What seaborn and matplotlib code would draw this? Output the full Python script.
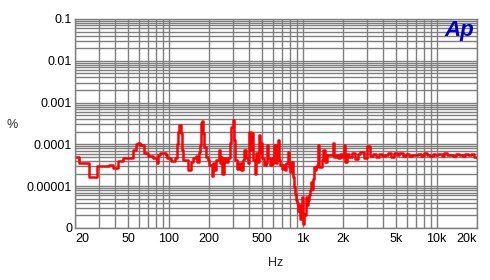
import matplotlib
matplotlib.use("Agg")
import matplotlib.pyplot as plt
import matplotlib.ticker as mticker
import seaborn as sns
import pandas as pd

# ---- data ----
freq_hz = [
    20, 21.4, 25.4, 29.2, 35.9, 38.4, 41.6, 45.6, 54.2, 57.0, 59.1, 61.1, 65.5, 70.1, 76.4,
    81.8, 83.2, 86.2, 95.5, 97.2, 104, 111.6, 115.4, 117.4, 119.4, 121.6, 123.6, 125.8, 128,
    134.7, 139.4, 146.8, 152, 160, 162.6, 168.4, 171.4, 174.4, 177.4, 180.4, 183.6, 190,
    196.6, 200, 210.6, 214.2, 217.8, 225.6, 237.6, 241.6, 245.8, 250, 258.8, 268, 277.2,
    287, 291.8, 302, 307.4, 312.6, 323.6, 335, 346.6, 358.8, 364.8, 377.8, 391, 397.8,
    404.6, 411.4, 418.8, 426, 440.8, 448.6, 464, 472, 480, 488, 498, 514, 532, 542, 550,
    570, 590, 600, 610, 632, 643, 654, 666, 678, 702, 713, 738, 751, 778, 791, 804, 818,
    848, 862, 877, 892, 908, 923, 939, 955, 972, 989, 1006, 1023, 1041, 1059, 1077, 1096,
    1115, 1134, 1154, 1174, 1194, 1215, 1236, 1257, 1279, 1301, 1324, 1394, 1418, 1468,
    1519, 1600, 1684, 1713, 1773, 1835, 1899, 1966, 2034, 2069, 2141,
    2200, 2320, 2440, 2570, 2700, 2850, 3000, 3160, 3330, 3500, 3690, 3880, 4090, 4300,
    4530, 4770, 5020, 5280, 5560, 5860, 6170, 6500, 6840, 7200, 7580, 7980, 8400, 8850,
    9310, 9800, 10300, 10900, 11400, 12000, 12700, 13300, 14000, 14800, 15600, 16400,
    17200, 18100, 19100, 20000,
]
thd_pct = [
    5.0e-5, 3.5e-5, 1.65e-5, 3.0e-5, 3.3e-5, 2.7e-5, 3.9e-5, 4.6e-5, 7.2e-5, 1.05e-4, 1.1e-4,
    9.5e-5, 6.2e-5, 5.3e-5, 4.6e-5,
    3.5e-5, 5.5e-5, 6.2e-5, 5.5e-5, 4.6e-5, 3.9e-5, 4.65e-5, 1.05e-4, 1.98e-4, 2.87e-4,
    2.87e-4, 1.85e-4, 7.2e-5, 4.3e-5,
    4.2e-5, 2.4e-5, 3.8e-5, 4.6e-5, 5.2e-5, 3.8e-5, 6.6e-5, 9.5e-5, 3.26e-4, 3.64e-4,
    1.85e-4, 8.7e-5, 5.0e-5,
    4.3e-5, 3.2e-5, 1.8e-5, 3.5e-5, 2.4e-5, 4.3e-5, 7.2e-5, 3.5e-5, 5.0e-5, 2.0e-5, 4.6e-5,
    3.8e-5, 4.6e-5,
    1.06e-4, 2.6e-4, 3.8e-4, 1.25e-4, 4.2e-5, 2.6e-5, 3.5e-5, 2.4e-5, 4.2e-5, 7.2e-5,
    4.6e-5, 3.5e-5, 1.98e-4,
    2.0e-4, 7.2e-5, 1.85e-4, 4.2e-5, 2.0e-5, 6.1e-5, 3.8e-5, 1.65e-4, 6.1e-5, 1.06e-4,
    4.6e-5, 3.2e-5, 3.5e-5, 9.5e-5, 4.65e-5,
    3.2e-5, 4.6e-5, 3.5e-5, 9.5e-5, 3.5e-5, 4.65e-5, 1.25e-4, 4.2e-5, 3.2e-5, 2.6e-5,
    3.2e-5, 2.4e-5, 3.5e-5, 6.6e-5, 2.9e-5, 2.2e-5, 3.8e-5,
    1.65e-5, 9.5e-6, 6.6e-6, 4.6e-6, 3.9e-6, 2.6e-6, 3.5e-6, 1.65e-6, 2.0e-6, 5.5e-6,
    1.26e-6, 2.2e-6, 2.0e-6, 5.5e-6, 3.5e-6, 4.6e-6,
    6.0e-6, 7.9e-6, 1.25e-5, 8.7e-6, 1.5e-5, 2.9e-5, 2.4e-5, 2.9e-5, 3.2e-5, 9.5e-5,
    2.9e-5, 4.2e-5, 7.2e-5, 3.8e-5,
    5.5e-5, 5.5e-5, 1.09e-4, 5.0e-5, 5.5e-5, 4.6e-5, 6.0e-5, 5.0e-5, 9.5e-5, 3.8e-5, 6.0e-5,
    5.0e-5, 6.3e-5, 4.4e-5, 5.9e-5, 6.6e-5, 4.6e-5, 9.0e-5, 5.2e-5, 5.8e-5, 5.0e-5, 6.0e-5,
    5.3e-5, 5.7e-5, 6.4e-5,
    4.9e-5, 6.1e-5, 5.5e-5, 6.2e-5, 5.4e-5, 5.8e-5, 5.2e-5, 5.7e-5, 5.5e-5, 5.8e-5, 5.3e-5,
    6.1e-5, 5.6e-5, 5.2e-5,
    6.0e-5, 5.6e-5, 5.9e-5, 5.3e-5, 6.2e-5, 5.5e-5, 5.7e-5, 5.2e-5, 6.0e-5, 5.6e-5, 5.3e-5,
    5.9e-5, 5.5e-5, 5.8e-5, 5.1e-5, 4.8e-5,
]

x_ticks = [20, 50, 100, 200, 500, 1000, 2000, 5000, 10000, 20000]
x_tick_labels = ["20", "50", "100", "200", "500", "1k", "2k", "5k", "10k", "20k"]
y_ticks = [1e-6, 1e-5, 1e-4, 1e-3, 1e-2, 1e-1]
y_tick_labels = ["0", "0.00001", "0.0001", "0.001", "0.01", "0.1"]

df = pd.DataFrame({"Hz": freq_hz, "pct": thd_pct})

sns.set_style("white")
plt.rcParams["font.family"] = ["Liberation Sans", "DejaVu Sans"]

fig = plt.figure(figsize=(4.9, 2.8), dpi=100)
ax = fig.add_axes([75 / 490, 1 - 228 / 280, 402 / 490, 209 / 280])

grid_col = "#7f7f7f"
ax.set_xscale("log")
ax.set_yscale("log")
ax.set_xlim(20, 20000)
ax.set_ylim(1e-6, 0.1)

ax.xaxis.set_major_locator(mticker.FixedLocator(x_ticks))
ax.xaxis.set_minor_locator(mticker.LogLocator(base=10, subs=range(1, 10), numticks=20))
ax.yaxis.set_major_locator(mticker.FixedLocator(y_ticks))
ax.yaxis.set_minor_locator(mticker.LogLocator(base=10, subs=range(1, 10), numticks=20))
ax.xaxis.set_minor_formatter(mticker.NullFormatter())
ax.yaxis.set_minor_formatter(mticker.NullFormatter())
ax.grid(True, which="both", color=grid_col, linewidth=1.0)
ax.set_axisbelow(True)

sns.lineplot(data=df, x="Hz", y="pct", ax=ax, color="#ff0000", linewidth=1.8,
             drawstyle="steps-post", estimator=None, sort=False, legend=False)

ax.set_xticks(x_ticks)
ax.set_xticklabels(x_tick_labels)
ax.set_yticks(y_ticks)
ax.set_yticklabels(y_tick_labels)
ax.tick_params(axis="both", which="both", length=0, labelsize=9, labelcolor="black")
ax.tick_params(axis="x", pad=3.5)
ax.tick_params(axis="y", pad=2)
xl = ax.get_xticklabels()
xl[0].set_ha("left")
xl[-1].set_ha("right")
ax.set_xlabel("")
ax.set_ylabel("")

for s in ax.spines.values():
    s.set_visible(True)
    s.set_color(grid_col)
    s.set_linewidth(1.0)

fig.text(12 / 490, 1 - 125 / 280, "%", fontsize=9, ha="center", va="center")
fig.text(276 / 490, 1 - 263 / 280, "Hz", fontsize=9, ha="center", va="center")
fig.text(474 / 490, 1 - 20 / 280, "Ap", fontsize=16, fontweight="bold", fontstyle="italic",
         color="#0000c8", ha="right", va="top")

fig.savefig("out.png", dpi=100)
